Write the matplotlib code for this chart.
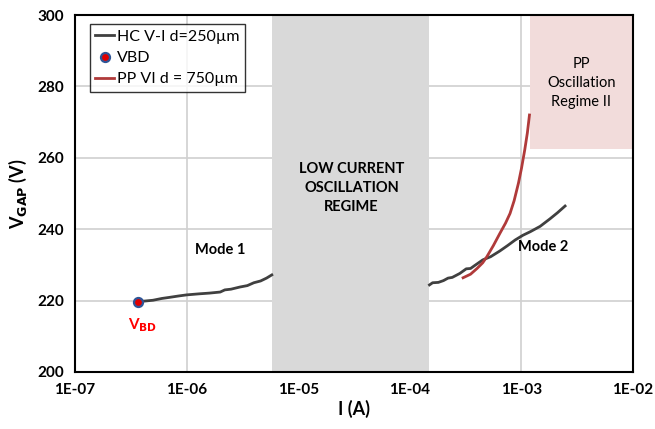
import numpy as np
import matplotlib.pyplot as plt

plt.rcParams['font.family'] = ['Lato', 'DejaVu Sans']

# HC V-I d=250um, mode 1 branch
hc1_i = [3.7e-7, 4.3e-7, 5e-7, 6e-7, 7e-7, 8.5e-7, 1.0e-6, 1.3e-6, 1.6e-6, 2.0e-6, 2.2e-6, 2.5e-6, 3.0e-6,
         3.5e-6, 4.0e-6, 4.6e-6, 5.2e-6, 5.8e-6]
hc1_v = [219.7, 219.9, 220.1, 220.6, 220.9, 221.3, 221.6, 221.9, 222.1, 222.4, 223.0, 223.2, 223.8,
         224.2, 225.0, 225.5, 226.3, 227.2]
# HC V-I d=250um, mode 2 branch
hc2_i = [1.5e-4, 1.6e-4, 1.8e-4, 2.0e-4, 2.2e-4, 2.4e-4, 2.8e-4, 3.2e-4, 3.5e-4, 3.8e-4, 4.5e-4, 5.3e-4,
         6.4e-4, 7.5e-4, 8.8e-4, 1.03e-3, 1.2e-3, 1.47e-3, 1.8e-3, 2.1e-3, 2.46e-3]
hc2_v = [224.4, 225.0, 225.1, 225.6, 226.3, 226.5, 227.6, 228.9, 229.0, 229.8, 231.4, 232.3,
         233.9, 235.4, 237.0, 238.3, 239.3, 240.8, 242.9, 244.6, 246.5]
# PP VI d=750um
pp_i = [3.0e-4, 3.5e-4, 4.0e-4, 4.5e-4, 4.9e-4, 5.6e-4, 6.4e-4, 7.2e-4, 7.9e-4, 8.6e-4, 9.4e-4, 1.0e-3,
        1.07e-3, 1.13e-3, 1.18e-3]
pp_v = [226.4, 227.4, 229.0, 230.6, 232.3, 235.4, 238.8, 241.7, 244.4, 248.0, 252.9, 257.0,
        262.2, 267.0, 272.0]
# breakdown point
vbd_i = [3.7e-7]
vbd_v = [219.7]

# shaded regimes
low_regime = (5.8e-6, 1.5e-4)
pp_regime_i = (1.19e-3, 1e-2)
pp_regime_v = (262.5, 300)

fig = plt.figure(figsize=(6.55, 4.29), dpi=100)
ax = fig.add_axes([0.1145, 0.1329, 0.852, 0.832])

ax.axvspan(low_regime[0], low_regime[1], color='#D9D9D9', zorder=1, lw=0)
ax.fill_between(pp_regime_i, pp_regime_v[0], pp_regime_v[1], color='#F2DCDB', zorder=1, lw=0)

ax.plot(hc1_i, hc1_v, color='#404040', lw=2, zorder=3, label='HC V-I d=250µm')
ax.plot(hc2_i, hc2_v, color='#404040', lw=2, zorder=3)
ax.plot(vbd_i, vbd_v, 'o', ms=6.5, mfc='#E00000', mec='#2F5597', mew=1.6, zorder=5, label='VBD')
ax.plot(pp_i, pp_v, color='#B03A3A', lw=2, zorder=4, label='PP VI d = 750µm')

ax.set_xscale('log')
ax.set_xlim(1e-7, 1e-2)
ax.set_ylim(200, 300)
ax.set_yticks([200, 220, 240, 260, 280, 300])
ax.set_xticks([1e-7, 1e-6, 1e-5, 1e-4, 1e-3, 1e-2])
ax.set_xticklabels(['1E-07', '1E-06', '1E-05', '1E-04', '1E-03', '1E-02'])
ax.minorticks_off()
ax.tick_params(axis='both', length=0, labelsize=11, pad=8)
for lab in ax.get_xticklabels() + ax.get_yticklabels():
    lab.set_fontweight('bold')

ax.grid(True, color='#D0D0D0', lw=1.2, zorder=0)
ax.set_axisbelow(True)
for s in ax.spines.values():
    s.set_linewidth(1.5)
    s.set_zorder(6)

ax.set_xlabel('I (A)', fontsize=13, fontweight='bold', labelpad=2)
ax.set_ylabel(r'V$_{\mathbf{GAP}}$ (V)', fontsize=13, fontweight='bold', labelpad=6)

ax.text(2.0e-6, 234.2, 'Mode 1', fontsize=10.5, fontweight='bold', ha='center', va='center', zorder=7)
ax.text(1.55e-3, 235, 'Mode 2', fontsize=10.5, fontweight='bold', ha='center', va='center', zorder=7)
ax.text(4e-7, 213, r'V$_{\mathbf{BD}}$', fontsize=11, fontweight='bold', color='#FF0000', ha='center', va='center', zorder=7)
ax.text(3.0e-5, 251.5, 'LOW CURRENT\nOSCILLATION\nREGIME', fontsize=10.5, fontweight='bold',
        ha='center', va='center', linespacing=1.45, zorder=7)
ax.text(3.45e-3, 281, 'PP\nOscillation\nRegime II', fontsize=10.5, ha='center', va='center',
        linespacing=1.45, zorder=7)

leg = ax.legend(loc='upper left', bbox_to_anchor=(0.026, 0.975), fontsize=11.5, frameon=True,
                fancybox=False, handlelength=1.2, handletextpad=0.15, borderpad=0.35,
                labelspacing=0.45, borderaxespad=0)
leg.get_frame().set_edgecolor('black')
leg.get_frame().set_linewidth(1.0)
leg.set_zorder(8)

plt.savefig('out.png', dpi=100)
